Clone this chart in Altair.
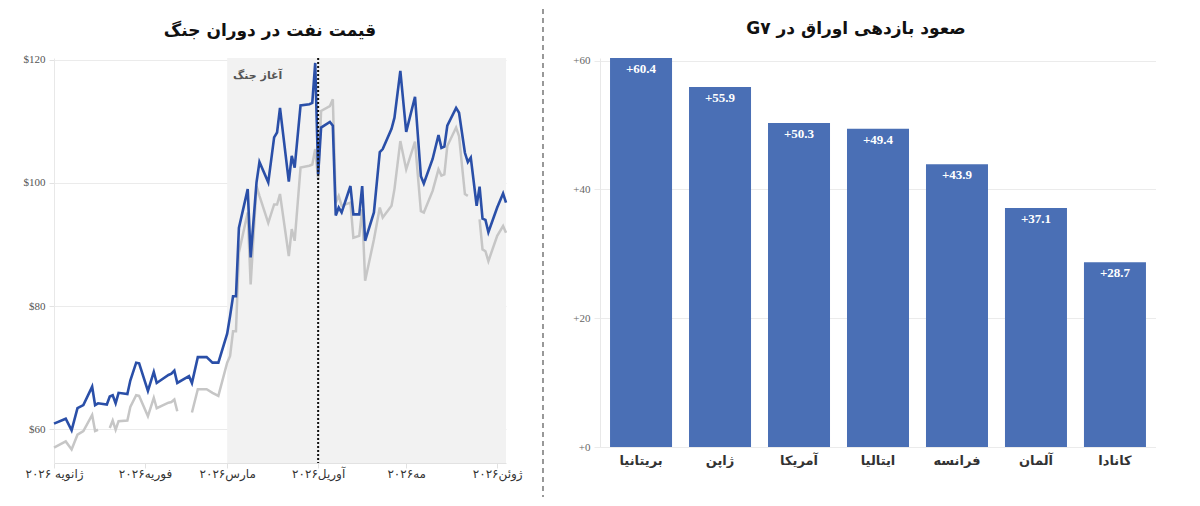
import json
import altair as alt
import pandas as pd

FA = "DejaVu Sans"
NUM = "Liberation Serif"

# ---------------- Oil price data (left chart) ----------------
blue_dates = [
    "2026-01-01", "2026-01-05", "2026-01-07", "2026-01-09", "2026-01-11", "2026-01-14", "2026-01-15",
    "2026-01-16", "2026-01-19", "2026-01-20", "2026-01-21", "2026-01-22", "2026-01-23", "2026-01-26",
    "2026-01-27", "2026-01-29", "2026-01-30",
    "2026-02-02", "2026-02-04", "2026-02-05", "2026-02-09", "2026-02-10", "2026-02-11", "2026-02-12",
    "2026-02-16", "2026-02-17", "2026-02-19", "2026-02-22", "2026-02-24", "2026-02-26",
    "2026-03-01", "2026-03-02", "2026-03-03", "2026-03-04", "2026-03-05", "2026-03-08", "2026-03-09",
    "2026-03-11", "2026-03-12", "2026-03-15", "2026-03-17", "2026-03-18", "2026-03-19", "2026-03-22",
    "2026-03-23", "2026-03-24", "2026-03-26", "2026-03-29", "2026-03-30", "2026-03-31",
    "2026-04-01", "2026-04-02", "2026-04-05", "2026-04-06", "2026-04-07", "2026-04-08", "2026-04-09",
    "2026-04-12", "2026-04-13", "2026-04-15", "2026-04-16", "2026-04-17", "2026-04-20", "2026-04-22",
    "2026-04-23", "2026-04-26", "2026-04-27", "2026-04-29",
    "2026-05-01", "2026-05-04", "2026-05-06", "2026-05-07", "2026-05-10", "2026-05-12", "2026-05-13",
    "2026-05-14", "2026-05-15", "2026-05-18", "2026-05-19", "2026-05-21", "2026-05-22", "2026-05-23",
    "2026-05-25", "2026-05-26", "2026-05-27", "2026-05-28", "2026-05-29",
    "2026-06-01", "2026-06-03", "2026-06-04",
]
blue_values = [
    60.9, 61.7, 59.8, 63.4, 63.9, 66.9, 63.9, 64.2, 64.0, 65.3, 65.5, 64.2, 65.9, 65.7, 67.9, 70.8, 70.7,
    66.2, 69.3, 67.5, 68.8, 69.0, 69.5, 67.5, 68.6, 67.5, 71.7, 71.7, 70.8, 70.8,
    75.5, 78.4, 81.6, 81.6, 92.7, 99.0, 87.9, 100.1, 103.4, 100.1, 107.4, 108.2, 112.2, 100.2,
    104.4, 102.5, 112.6, 112.8, 113.0, 119.5,
    101.4, 109.0, 109.9, 109.3, 94.7, 96.0, 95.2, 99.5, 94.9, 94.9, 99.5, 90.6, 95.2, 105.0,
    105.5, 108.8, 110.6, 118.2,
    108.3, 114.0, 101.1, 99.9, 103.9, 107.8, 105.7, 105.9, 109.3, 112.2, 111.4, 104.9, 103.4, 104.1,
    96.3, 99.4, 94.2, 94.0, 92.0,
    96.0, 98.3, 96.8,
]

gray_dates = [
    "2026-01-01", "2026-01-05", "2026-01-07", "2026-01-09", "2026-01-11", "2026-01-14", "2026-01-15",
    "2026-01-16", "2026-01-19", "2026-01-20", "2026-01-21", "2026-01-22", "2026-01-23", "2026-01-26",
    "2026-01-27", "2026-01-29", "2026-01-30",
    "2026-02-02", "2026-02-04", "2026-02-05", "2026-02-09", "2026-02-10", "2026-02-11", "2026-02-12",
    "2026-02-16", "2026-02-17", "2026-02-19", "2026-02-22", "2026-02-24", "2026-02-26",
    "2026-03-01", "2026-03-02", "2026-03-03", "2026-03-04", "2026-03-05", "2026-03-08", "2026-03-09",
    "2026-03-11", "2026-03-12", "2026-03-15", "2026-03-17", "2026-03-18", "2026-03-19", "2026-03-22",
    "2026-03-23", "2026-03-24", "2026-03-26", "2026-03-29", "2026-03-30", "2026-03-31",
    "2026-04-01", "2026-04-02", "2026-04-05", "2026-04-06", "2026-04-07", "2026-04-08", "2026-04-09",
    "2026-04-12", "2026-04-13", "2026-04-15", "2026-04-16", "2026-04-17", "2026-04-20", "2026-04-22",
    "2026-04-23", "2026-04-26", "2026-04-27", "2026-04-29",
    "2026-05-01", "2026-05-04", "2026-05-06", "2026-05-07", "2026-05-10", "2026-05-12", "2026-05-13",
    "2026-05-14", "2026-05-15", "2026-05-18", "2026-05-19", "2026-05-21", "2026-05-22",
    "2026-05-25", "2026-05-26", "2026-05-27", "2026-05-28", "2026-05-29",
    "2026-06-01", "2026-06-03", "2026-06-04",
]
gray_values = [
    57.0, 58.0, 56.7, 59.1, 59.7, 62.3, 59.7, 59.9, None, 60.2, 61.4, 59.9, 61.3, 61.4, 63.6, 65.5, 65.4,
    62.1, 65.1, 63.4, 64.3, 64.4, 64.8, 62.9, None, 62.7, 66.5, 66.5, 65.9, 65.4,
    70.8, 71.9, 75.9, 75.9, 88.7, 95.2, 83.5, 99.5, 97.9, 93.5, 96.5, 96.5, 98.2, 88.1,
    92.5, 90.6, 102.5, 102.8, 103.0, 105.5,
    100.6, 111.7, 112.5, 113.6, 96.8, 97.9, 96.3, 96.8, 91.1, 91.4, 95.7, 84.1, 90.8, 96.0,
    94.4, 96.3, 99.0, 106.8,
    102.2, 106.7, 95.4, 95.2, 98.7, 102.2, 101.2, 101.4, 106.0, 109.0, 107.6, 98.2, 97.9,
    None, 94.1, 89.2, 88.9, 87.3,
    91.4, 93.0, 91.9,
]

war_band_start = ["2026-03-01"]
war_band_end = ["2026-06-04"]
war_start_line = ["2026-04-01"]
war_label = ["آغاز جنگ"]
war_label_date = ["2026-03-03"]
war_label_value = [117.4]

month_tick_months = [1, 2, 3, 4, 5, 6]
month_labels = ["۲۰۲۶ ژانویه", "۲۰۲۶فوریه", "۲۰۲۶مارس", "۲۰۲۶آوریل", "۲۰۲۶مه", "۲۰۲۶ژوئن"]
price_ticks = [60, 80, 100, 120]

left_title = "قیمت نفت در دوران جنگ"

# ---------------- G7 bond yield data (right chart) ----------------
countries = ["بریتانیا", "ژاپن", "آمریکا", "ایتالیا", "فرانسه", "آلمان", "کانادا"]
yield_rise = [60.4, 55.9, 50.3, 49.4, 43.9, 37.1, 28.7]
yield_ticks = [0, 20, 40, 60]
right_title = "G۷ صعود بازدهی اوراق در"

# ---------------- build tables ----------------
blue_df = pd.DataFrame({"date": blue_dates, "value": blue_values})

seg_ids = []
seg = 0
for v in gray_values:
    if v is None:
        seg += 1
    seg_ids.append(seg)
gray_df = pd.DataFrame({"date": gray_dates, "value": gray_values, "seg": seg_ids})
gray_df = gray_df.dropna()

band_df = pd.DataFrame({"start": war_band_start, "end": war_band_end})
line_df = pd.DataFrame({"date": war_start_line})
label_df = pd.DataFrame({"date": war_label_date, "value": war_label_value, "text": war_label})

bar_df = pd.DataFrame({"country": countries, "value": yield_rise})
bar_df["label"] = ["+" + f"{v:.1f}" for v in yield_rise]

W1, H1 = 452, 405
W2, H2 = 556, 389

label_expr = json.dumps(month_labels, ensure_ascii=False) + "[utcmonth(datum.value)]"

xscale = alt.Scale(
    type="utc",
    domain=[alt.DateTime(year=2026, month=1, date=1, utc=True),
            alt.DateTime(year=2026, month=6, date=4, utc=True)],
)
yscale = alt.Scale(domain=[54.5, 120.3], nice=False, zero=False)

x_axis = alt.Axis(
    title=None,
    values=[alt.DateTime(year=2026, month=m, date=1, utc=True) for m in month_tick_months],
    labelExpr=label_expr,
    labelFlush=False,
    labelOverlap=False,
    grid=False,
    domainColor="#e2e2e2",
    tickColor="#e2e2e2",
    tickSize=5,
    labelPadding=0,
    labelFont=FA,
    labelFontSize=12,
    labelColor="#333333",
    labelAngle=0,
)
y_axis = alt.Axis(
    title=None,
    values=price_ticks,
    labelExpr="'$' + datum.value",
    gridColor="#ebebeb",
    domainColor="#e8e8e8",
    tickColor="#e2e2e2",
    tickSize=5,
    labelPadding=4,
    labelFont=NUM,
    labelFontSize=11,
    labelColor="#555555",
)

band = alt.Chart(band_df).mark_rect(color="#f2f2f2").encode(
    x=alt.X("start:T", scale=xscale, axis=x_axis),
    x2="end:T",
)

gray_line = alt.Chart(gray_df).mark_line(color="#c6c6c6", strokeWidth=2.5).encode(
    x="date:T",
    y=alt.Y("value:Q", scale=yscale, axis=y_axis),
    detail="seg:N",
)

blue_line = alt.Chart(blue_df).mark_line(color="#2a4fa8", strokeWidth=2.6).encode(
    x="date:T",
    y="value:Q",
)

war_rule = alt.Chart(line_df).mark_rule(color="#111111", strokeWidth=2, strokeDash=[2, 2]).encode(
    x="date:T",
)

war_text = alt.Chart(label_df).mark_text(
    align="left", baseline="middle", font=FA, fontSize=11, fontWeight="bold", color="#555555"
).encode(x="date:T", y="value:Q", text="text:N")

left = alt.layer(band, gray_line, blue_line, war_rule, war_text).properties(
    width=W1,
    height=H1,
    title=alt.TitleParams(
        left_title, font=FA, fontSize=17, fontWeight="bold", color="#111111",
        anchor="middle", frame="group", offset=14, dx=-10,
    ),
)

# thin middle cell that only carries the dashed separator line
separator = alt.Chart(pd.DataFrame({"k": [0]})).mark_rule(
    color="#555555", strokeWidth=1.2, strokeDash=[5, 4]
).encode(x=alt.value(-9.5), y=alt.value(-49), y2=alt.value(H1 + 34)).properties(width=1, height=H1)

bars = alt.Chart(bar_df).mark_bar(color="#4a6fb5").encode(
    x=alt.X(
        "country:N", sort=None,
        scale=alt.Scale(paddingInner=0.215, paddingOuter=0.127),
        axis=alt.Axis(
            title=None, labelAngle=0, domain=False, ticks=False, labelPadding=7,
            labelFont=FA, labelFontSize=13, labelFontWeight="bold", labelColor="#333333",
        ),
    ),
    y=alt.Y(
        "value:Q",
        scale=alt.Scale(domain=[0, 60.4], nice=False),
        axis=alt.Axis(
            title=None, values=yield_ticks, labelExpr="'+' + datum.value",
            gridColor="#ebebeb", domainColor="#e8e8e8", tickColor="#ebebeb", tickSize=6,
            labelPadding=4, labelFont=NUM, labelFontSize=11, labelColor="#666666",
        ),
    ),
)
bar_labels = alt.Chart(bar_df).mark_text(
    baseline="top", dy=5, font=NUM, fontSize=13, fontWeight="bold", color="white"
).encode(x=alt.X("country:N", sort=None), y="value:Q", text="label:N")

right = alt.layer(bars, bar_labels).properties(
    width=W2,
    height=H2,
    title=alt.TitleParams(
        right_title, font=FA, fontSize=17, fontWeight="bold", color="#111111",
        anchor="middle", frame="group", offset=17, dx=-22,
    ),
)

chart = (
    alt.hconcat(left, separator, right, spacing=46.5, bounds="flush")
    .properties(padding={"left": 15, "top": 0, "right": 0, "bottom": 0})
    .configure_view(stroke=None)
)

chart.save("out.html", embed_options={"renderer": "svg", "actions": False})
